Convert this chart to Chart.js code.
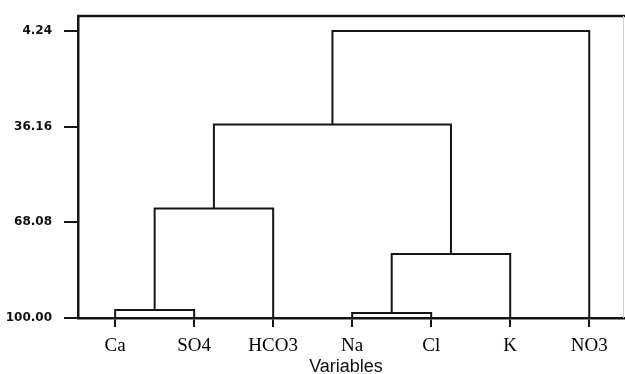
<!DOCTYPE html>
<html>
<head>
<meta charset="utf-8">
<script src="https://cdn.jsdelivr.net/npm/chart.js@4"></script>
<style>
  html, body { margin: 0; padding: 0; background: #fff; }
  #wrap { width: 625px; height: 374px; }
</style>
</head>
<body>
<div id="wrap"><canvas id="dendro" width="625" height="374"></canvas></div>
<script>
// leaves in dendrogram order
const leaves = ['Ca', 'SO4', 'HCO3', 'Na', 'Cl', 'K', 'NO3'];

// linkage: node ids 0..6 are leaves, each merge creates node 7, 8, ...
const mergeA   = [0, 3, 7, 8, 9, 11];
const mergeB   = [1, 4, 2, 5, 10, 6];
const mergeSim = [97.3, 98.3, 63.45, 78.6, 35.4, 4.24];

const yTicks = [4.24, 36.16, 68.08, 100.00];

const INK = '#151515';

// build link polylines from the linkage
const nodeX = leaves.map((_, i) => i);
const nodeY = leaves.map(() => 100);
const links = [];
mergeA.forEach((a, k) => {
    const b = mergeB[k], s = mergeSim[k];
    links.push([
        { x: nodeX[a], y: nodeY[a] },
        { x: nodeX[a], y: s },
        { x: nodeX[b], y: s },
        { x: nodeX[b], y: nodeY[b] }
    ]);
    nodeX.push((nodeX[a] + nodeX[b]) / 2);
    nodeY.push(s);
});

const framePlugin = {
    id: 'frame',
    afterDraw(chart) {
        const { ctx, chartArea: ca } = chart;
        ctx.save();
        ctx.strokeStyle = INK;
        ctx.lineWidth = 2.5;
        ctx.beginPath();
        ctx.moveTo(ca.left - 1, ca.top);
        ctx.lineTo(chart.width, ca.top);
        ctx.stroke();
        ctx.strokeStyle = '#cfcfcf';
        ctx.lineWidth = 1;
        ctx.beginPath();
        ctx.moveTo(ca.right - 0.5, ca.top);
        ctx.lineTo(ca.right - 0.5, ca.bottom);
        ctx.stroke();
        ctx.restore();
    }
};

new Chart(document.getElementById('dendro'), {
    type: 'scatter',
    data: {
        datasets: links.map(pts => ({
            data: pts,
            showLine: true,
            borderColor: INK,
            borderWidth: 2,
            pointRadius: 0,
            tension: 0
        }))
    },
    options: {
        responsive: false,
        animation: false,
        layout: { padding: { top: 16, right: 1, left: 0, bottom: 0 } },
        plugins: { legend: { display: false }, tooltip: { enabled: false } },
        scales: {
            x: {
                type: 'linear',
                min: -0.47,
                max: 6.44,
                afterBuildTicks: s => { s.ticks = leaves.map((_, i) => ({ value: i })); },
                afterFit: s => { s.height = 56; },
                ticks: {
                    autoSkip: false,
                    maxRotation: 0,
                    padding: 8,
                    color: '#000',
                    font: { family: '"Liberation Serif", serif', size: 19 },
                    callback: v => leaves[v]
                },
                grid: { drawOnChartArea: false, tickLength: 9, color: INK, lineWidth: 2 },
                border: { display: true, color: INK, width: 2.5 },
                title: {
                    display: true,
                    text: 'Variables  ',
                    color: '#111',
                    padding: 0,
                    font: { family: '"Liberation Sans", Arial, sans-serif', size: 18, lineHeight: 0.8 }
                }
            },
            y: {
                type: 'linear',
                reverse: true,
                min: -0.8,
                max: 100,
                afterBuildTicks: s => { s.ticks = yTicks.map(v => ({ value: v })); },
                afterFit: s => { s.width = 78; s.paddingTop = 0; s.paddingBottom = 0; },
                ticks: {
                    padding: 12,
                    color: '#111',
                    font: { family: '"DejaVu Sans", sans-serif', size: 12, weight: 'bold' },
                    callback: v => Number(v).toFixed(2)
                },
                grid: { drawOnChartArea: false, tickLength: 14, color: INK, lineWidth: 2 },
                border: { display: true, color: INK, width: 2.5 }
            }
        }
    },
    plugins: [framePlugin]
});
</script>
</body>
</html>
